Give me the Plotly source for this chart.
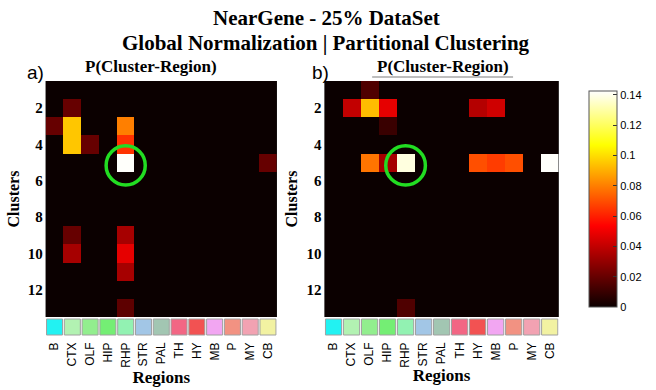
import plotly.graph_objects as go

# Brain regions (columns) and clusters (rows)
regions = ["B", "CTX", "OLF", "HIP", "RHP", "STR", "PAL", "TH", "HY", "MB", "P", "MY", "CB"]
clusters = list(range(1, 14))
region_colors = ["#22F2F2", "#B2F2B2", "#92EE8E", "#74EE74", "#92F2B2", "#A2C6E6",
                 "#A2C6B2", "#F26684", "#F25252", "#F2A6F2", "#F29282", "#F2A2B2", "#F2F2A2"]
cluster_ticks = [2, 4, 6, 8, 10, 12]
cbar_ticks = [0, 0.02, 0.04, 0.06, 0.08, 0.1, 0.12, 0.14]

# P(Cluster-Region), panel a)
z_a = [
    [0, 0, 0, 0, 0, 0, 0, 0, 0, 0, 0, 0, 0],
    [0, 0.020, 0, 0, 0, 0, 0, 0, 0, 0, 0, 0, 0],
    [0.020, 0.095, 0, 0, 0.080, 0, 0, 0, 0, 0, 0, 0, 0],
    [0, 0.095, 0.020, 0, 0.064, 0, 0, 0, 0, 0, 0, 0, 0],
    [0, 0, 0, 0, 0.142, 0, 0, 0, 0, 0, 0, 0, 0.020],
    [0, 0, 0, 0, 0, 0, 0, 0, 0, 0, 0, 0, 0],
    [0, 0, 0, 0, 0, 0, 0, 0, 0, 0, 0, 0, 0],
    [0, 0, 0, 0, 0, 0, 0, 0, 0, 0, 0, 0, 0],
    [0, 0.020, 0, 0, 0.034, 0, 0, 0, 0, 0, 0, 0, 0],
    [0, 0.034, 0, 0, 0.048, 0, 0, 0, 0, 0, 0, 0, 0],
    [0, 0, 0, 0, 0.034, 0, 0, 0, 0, 0, 0, 0, 0],
    [0, 0, 0, 0, 0, 0, 0, 0, 0, 0, 0, 0, 0],
    [0, 0, 0, 0, 0.018, 0, 0, 0, 0, 0, 0, 0, 0],
]

# P(Cluster-Region), panel b)
z_b = [
    [0, 0, 0.015, 0, 0, 0, 0, 0, 0, 0, 0, 0, 0],
    [0, 0.040, 0.093, 0.048, 0, 0, 0, 0, 0.037, 0.043, 0, 0, 0],
    [0, 0, 0, 0.010, 0, 0, 0, 0, 0, 0, 0, 0, 0],
    [0, 0, 0, 0, 0, 0, 0, 0, 0, 0, 0, 0, 0],
    [0, 0, 0.078, 0.034, 0.138, 0, 0, 0, 0.070, 0.066, 0.070, 0, 0.142],
    [0, 0, 0, 0, 0, 0, 0, 0, 0, 0, 0, 0, 0],
    [0, 0, 0, 0, 0, 0, 0, 0, 0, 0, 0, 0, 0],
    [0, 0, 0, 0, 0, 0, 0, 0, 0, 0, 0, 0, 0],
    [0, 0, 0, 0, 0, 0, 0, 0, 0, 0, 0, 0, 0],
    [0, 0, 0, 0, 0, 0, 0, 0, 0, 0, 0, 0, 0],
    [0, 0, 0, 0, 0, 0, 0, 0, 0, 0, 0, 0, 0],
    [0, 0, 0, 0, 0, 0, 0, 0, 0, 0, 0, 0, 0],
    [0, 0, 0, 0, 0.015, 0, 0, 0, 0, 0, 0, 0, 0],
]

# MATLAB-style "hot" colormap
hot = [[0.0, "rgb(11,0,0)"], [0.375, "rgb(255,0,0)"], [0.75, "rgb(255,255,0)"], [1.0, "rgb(255,255,255)"]]
ZMAX = 0.1425

W, H = 656, 390
def px(x):
    return x / W
def py(y):
    return 1 - y / H

top, bottom = 81, 317
fig = go.Figure()

fig.add_trace(go.Heatmap(z=z_a, x=regions, y=clusters, colorscale=hot, zmin=0, zmax=ZMAX,
                         xaxis="x", yaxis="y", showscale=False))
fig.add_trace(go.Heatmap(
    z=z_b, x=regions, y=clusters, colorscale=hot, zmin=0, zmax=ZMAX,
    xaxis="x2", yaxis="y2",
    colorbar=dict(x=px(583), xanchor="left", y=py(top), yanchor="top",
                  len=(bottom - top) / H, lenmode="fraction", thickness=28, thicknessmode="pixels",
                  outlinewidth=1, outlinecolor="#555555", tickvals=cbar_ticks,
                  ticks="inside", ticklen=4, tickcolor="#333333",
                  tickfont=dict(family="Liberation Sans, Arial", size=11, color="black"))))

serif = "Liberation Serif, Times New Roman, serif"
sans = "Liberation Sans, Arial, sans-serif"

xcommon = dict(range=[-0.5, 12.5], showgrid=False, zeroline=False, showline=False,
               tickangle=-90, ticks="", ticklabelstandoff=22,
               tickfont=dict(family=sans, size=12, color="black"),
               title=dict(text="<b>Regions</b>", font=dict(family=serif, size=17, color="black"), standoff=2))
ycommon = dict(range=[13.5, 0.5], showgrid=False, zeroline=False, showline=False,
               tickvals=cluster_ticks, ticks="", ticklabelstandoff=2,
               tickfont=dict(family=serif, size=15, color="black", weight="bold"),
               title=dict(text="<b>Clusters</b>", font=dict(family=serif, size=16, color="black"), standoff=4))

fig.update_layout(
    width=W, height=H, margin=dict(l=0, r=0, t=0, b=0),
    paper_bgcolor="white", plot_bgcolor="black",
    xaxis=dict(domain=[px(46), px(279)], anchor="y", **xcommon),
    yaxis=dict(domain=[py(bottom), py(top)], anchor="x", **ycommon),
    xaxis2=dict(domain=[px(327), px(563)], anchor="y2", **xcommon),
    yaxis2=dict(domain=[py(bottom), py(top)], anchor="x2", **ycommon),
)

shapes = []
# colour key boxes under each panel
for xr in ["x", "x2"]:
    for i, c in enumerate(region_colors):
        shapes.append(dict(type="rect", xref=xr, yref="paper", x0=i - 0.45, x1=i + 0.45,
                           y0=py(335), y1=py(319), fillcolor=c,
                           line=dict(color="#A0A0A0", width=1)))
# green highlight circles around RHP / cluster 5
for xr, yr in [("x", "y"), ("x2", "y2")]:
    shapes.append(dict(type="circle", xref=xr, yref=yr, x0=4 - 1.1, x1=4 + 1.1,
                       y0=5.15 - 1.08, y1=5.15 + 1.08, line=dict(color="#22DD22", width=3.5)))
# thin rule above the right panel title
shapes.append(dict(type="line", xref="paper", yref="paper", x0=px(375), x1=px(517),
                   y0=py(77), y1=py(77), line=dict(color="#A8A8A8", width=1.5)))
fig.update_layout(shapes=shapes)

ann = [
    dict(text="<b>NearGene - 25% DataSet</b>", x=px(329), y=py(18), font=dict(family=serif, size=21)),
    dict(text="<b>Global Normalization | Partitional Clustering</b>", x=px(329), y=py(43),
         font=dict(family=serif, size=21)),
    dict(text="<b>P(Cluster-Region)</b>", x=px(152), y=py(66), font=dict(family=serif, size=17)),
    dict(text="<b>P(Cluster-Region)</b>", x=px(446), y=py(66), font=dict(family=serif, size=17)),
    dict(text="a)", x=px(36), y=py(72), font=dict(family=sans, size=19)),
    dict(text="b)", x=px(323), y=py(72), font=dict(family=sans, size=19)),
]
for a in ann:
    a.update(xref="paper", yref="paper", showarrow=False, xanchor="center", yanchor="middle")
    a["font"]["color"] = "black"
fig.update_layout(annotations=ann)

fig.write_html("out.html")
